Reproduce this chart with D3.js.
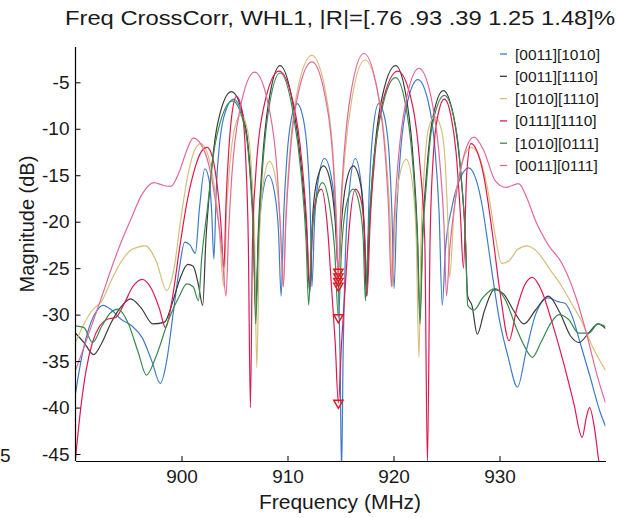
<!DOCTYPE html>
<html><head><meta charset="utf-8">
<script src="https://cdn.jsdelivr.net/npm/d3@7"></script>
<style>
body{margin:0;background:#fff;}
svg text{font-family:"Liberation Sans",Arial,sans-serif;fill:#1a1a1a;}
</style></head>
<body><svg id="c" width="621" height="518"></svg>
<script>
const titleText = "Freq CrossCorr, WHL1, |R|=[.76 .93 .39 1.25 1.48]%";
const seriesNames = ["[0011][1010]","[0011][1110]","[1010][1110]","[0111][1110]","[1010][0111]","[0011][0111]"];
const seriesColors = ["#3d7cc9","#3c3c3c","#d6bf7a","#e0184e","#3a8a4e","#e3679b"];
const xTicks = [900,910,920,930];
const yTicks = [-5,-10,-15,-20,-25,-30,-35,-40,-45];
const markerFreq = 914.8;
const markerVals = [-25.4,-25.9,-26.4,-26.9,-30.3,-39.5];

const s1 = [[890,-38.5],[890.6,-34.5],[891.4,-31],[892.0,-29.6],[892.6,-29],[893.4,-29.5],[894.3,-30.5],[895.3,-31.2],[896.3,-32.5],[897.2,-35],[898.0,-37.4],[898.6,-35],[899.2,-30],[899.8,-25],[900.3,-22.2],[900.8,-22.5],[901.3,-23.4],[901.7,-18.5],[902.2,-14.3],[902.6,-15.5],[902.85,-19],[903.05,-24],
[903.3,-16],[903.6,-11.5],[904.1,-8.3],[904.9,-6.8],[905.7,-8.3],[906.3,-12],[906.7,-18],[907.0,-29],
[907.3,-21],[907.65,-17],[908.2,-15],[908.8,-17],[909.15,-21],[909.4,-28],
[909.65,-19],[909.95,-13],[910.35,-9],[910.9,-7.3],[911.5,-9],[911.9,-13],[912.15,-19],[912.3,-27],
[912.55,-20],[912.9,-15.5],[913.5,-13.2],[914.1,-15],[914.5,-19],[914.8,-26.9],[914.95,-34],[915.1,-47],
[915.25,-34],[915.45,-24],[915.8,-17],[916.4,-13.2],[917.0,-16.5],[917.3,-22],[917.45,-27],
[917.7,-17],[918.0,-11],[918.6,-7.3],[919.2,-9],[919.6,-13],[919.85,-19],[920.05,-27.2],
[920.3,-19],[920.7,-12],[921.3,-7.2],[922.3,-4.7],[923.3,-7.2],[923.9,-12],[924.3,-19],[924.6,-29],
[924.9,-23],[925.5,-18.5],[926.3,-15.3],[927.1,-14.2],[927.8,-15.5],[928.4,-18.5],[928.8,-21.5],[929.3,-25.5],[930.0,-30.6],[930.8,-34.5],[931.7,-37.8],[932.5,-34],[933.4,-30],[934.6,-28.2],[935.5,-28.6],[936.2,-28.8],[936.8,-30],[937.6,-33],[938.5,-36.5],[939.5,-40.5],[940,-42]];

const s2 = [[890,-32],[890.8,-33],[891.7,-34.3],[892.5,-33],[893.3,-31],[894.2,-29.3],[895.2,-28.3],[896.2,-29.3],[897.3,-31],[898.4,-30.8],[899.2,-28.5],[899.9,-26],[900.6,-24.6],[901.1,-24.8],[901.6,-26.8],[902.0,-29],
[902.3,-22],[902.7,-16],[903.4,-9.5],[904.7,-6.0],[906.0,-9.5],[906.5,-15],[906.8,-21],[907.0,-30],
[907.25,-21],[907.6,-14],[908.2,-7.3],[909.3,-3.2],[910.5,-7.3],[911.3,-14],[911.8,-21],[912.1,-27.7],
[912.35,-20],[912.7,-16],[913.4,-14],[914.1,-16],[914.5,-20],[914.8,-25.4],
[915.1,-20],[915.5,-16],[916.2,-14],[916.9,-16],[917.2,-20],[917.45,-28],
[917.7,-21],[918.1,-14],[918.8,-7.3],[920.2,-3.2],[921.3,-7.3],[921.9,-14],[922.25,-21],[922.5,-30],
[922.75,-21],[923.1,-15],[923.6,-9.5],[924.7,-5.9],[925.8,-9.5],[926.4,-15.5],[926.75,-21],[927.0,-28],
[927.4,-29],[927.9,-32.1],[928.6,-29.5],[929.5,-27.3],[930.4,-27.8],[931.3,-29.5],[932.3,-31],[933.4,-29.5],[934.6,-28],[935.7,-29.8],[936.7,-32.3],[937.5,-33],[938.4,-32],[939.3,-31],[940,-31.5]];

const s3 = [[890,-33],[890.8,-31],[891.6,-29.5],[892.5,-28.5],[893.3,-26.5],[894.2,-24.5],[895.3,-23],[896.6,-22.6],[897.6,-24.2],[898.6,-27.4],[899.3,-25],[899.9,-20],[900.6,-15],[901.2,-12.4],[901.8,-11.6],[902.4,-12.5],[903.0,-15.5],[903.5,-20],[904.0,-27],
[904.25,-19],[904.55,-14],[905.0,-10],[905.6,-8.5],[906.2,-10],[906.6,-14.5],[906.9,-22],[907.1,-35.7],
[907.35,-22],[907.7,-16],[908.3,-13.5],[908.9,-15.5],[909.3,-20],[909.6,-27],
[909.85,-19],[910.2,-12.8],[910.9,-6.1],[912.3,-2.1],[913.6,-6.1],[914.3,-12.8],[914.6,-19],[914.8,-26.4],
[915.05,-19],[915.4,-13],[916.1,-6.6],[917.3,-2.6],[918.6,-6.6],[919.3,-13],[919.65,-19],[919.9,-27],
[920.15,-20],[920.5,-15.5],[921.2,-13.3],[921.8,-16],[922.15,-22],[922.4,-34.6],
[922.6,-22],[922.9,-14.5],[923.3,-10],[923.9,-8.7],[924.5,-10],[924.9,-14],[925.1,-19],[925.3,-26],
[925.7,-19],[926.3,-14.5],[927.3,-12.0],[928.0,-12.8],[928.8,-16],[929.6,-21.5],[930.2,-24.5],[930.9,-24.2],[931.7,-23],[932.6,-22.6],[933.6,-23.3],[934.8,-25.2],[935.9,-27],[936.8,-28.8],[937.7,-30.6],[938.8,-33.5],[940,-36]];

const s4 = [[890,-45.5],[890.5,-40],[891.0,-36],[891.6,-33],[892.3,-31.2],[893.0,-30.5],[893.8,-30.3],[894.6,-28.8],[895.4,-27],[896.3,-26.2],[897.2,-27.3],[897.9,-29.3],[898.5,-31.4],[899.1,-28.5],[899.8,-23],[900.5,-18],[901.2,-14.5],[901.9,-12.4],[902.4,-12.0],[902.8,-12.6],[903.3,-15.5],[903.7,-20],[904.0,-25],
[904.2,-18],[904.45,-12.5],[904.75,-8.5],[905.2,-6.5],[905.7,-8],[906.05,-13],[906.3,-22],[906.5,-40],
[906.7,-22],[907.0,-15],[907.7,-8],[909.2,-3.8],[910.6,-7.5],[911.35,-13.5],[911.8,-20],[912.1,-27],
[912.35,-21],[912.7,-17.5],[913.2,-16.5],[913.8,-21],[914.15,-27],[914.5,-33],[914.8,-39.5],[915.1,-33],[915.45,-27],[915.8,-21],[916.4,-16.5],[916.9,-17.5],[917.25,-21],[917.5,-28],
[917.8,-20],[918.2,-13.5],[918.9,-7.5],[920.4,-3.8],[921.8,-7.5],[922.5,-14],[922.95,-22],[923.2,-46],
[923.45,-22],[923.75,-13],[924.2,-8.5],[924.8,-6.8],[925.4,-8.5],[925.9,-12.5],[926.3,-19],[926.6,-25],
[926.9,-15],[927.3,-11.6],[927.8,-12.2],[928.5,-15],[929.3,-21],[930.1,-28],[930.9,-32.8],[931.6,-29.5],[932.3,-27],[933.1,-26],[934.0,-27.5],[935.0,-31],[936.0,-35],[937.0,-39.5],[937.8,-43.2],[938.2,-41],[938.5,-40],[939.0,-42.5],[939.4,-46],[940,-48]];

const s5 = [[890,-31.2],[890.8,-31.4],[891.6,-33],[892.5,-31.2],[893.3,-29.8],[894.0,-29.4],[895.0,-31],[895.9,-34],[896.7,-36.5],[897.6,-34.5],[898.8,-30.5],[899.8,-28],[900.5,-26.7],[901.1,-27],[901.6,-28.5],
[901.9,-24],[902.4,-19],[903.2,-11.5],[904.8,-7.0],[906.0,-10],[906.5,-15.5],[906.8,-22],[907.0,-31],
[907.25,-22],[907.6,-15],[908.2,-8.1],[909.3,-4.0],[910.5,-8.1],[911.3,-15],[911.75,-22],[912.0,-29],
[912.25,-22],[912.6,-18.5],[913.3,-15.8],[914.0,-18.5],[914.45,-23],[914.8,-30.3],
[915.1,-23],[915.5,-18.5],[916.2,-16.5],[916.9,-19],[917.15,-22],[917.35,-28.5],
[917.6,-22],[918.0,-15],[918.8,-8.5],[920.2,-4.5],[921.3,-8.5],[921.9,-15],[922.25,-22],[922.5,-31],
[922.75,-22],[923.1,-16],[923.6,-10],[924.8,-6.4],[925.9,-10],[926.45,-16],[926.8,-22],[927.0,-29],
[927.6,-29.5],[928.4,-28.2],[929.6,-27.2],[930.6,-28.5],[931.6,-31.5],[932.4,-33.5],[933.1,-34.6],[933.9,-33],[934.8,-31],[935.6,-30],[936.5,-30.5],[937.5,-32],[938.4,-32],[939.3,-31],[940,-31.3]];

const s6 = [[890,-36],[890.8,-33.5],[891.7,-30.6],[892.5,-28],[893.3,-25.3],[894.2,-22.5],[895.2,-19.8],[896.3,-17],[897.4,-15.8],[898.3,-16.1],[899.0,-16.2],[899.8,-14.6],[900.5,-12.3],[901.1,-11.0],[901.8,-11.6],[902.6,-14],[903.3,-18.5],[903.8,-23],[904.2,-28],
[904.45,-21],[904.75,-15],[905.5,-8],[906.9,-3.9],[908.3,-8],[909.05,-15],[909.35,-21],[909.6,-27],
[909.85,-20],[910.2,-13.5],[910.9,-6.8],[912.3,-2.8],[913.6,-6.8],[914.3,-13.5],[914.6,-20],[914.8,-25.9],
[915.0,-19],[915.35,-12.5],[916.0,-6],[917.2,-1.9],[918.5,-6],[919.2,-12.5],[919.55,-19],[919.8,-27],
[920.05,-20],[920.4,-14],[921.1,-7.5],[922.4,-3.5],[923.7,-7.5],[924.4,-14],[924.75,-20],[925.0,-28],
[925.3,-23],[925.8,-18],[926.5,-13.5],[927.6,-10.9],[928.5,-12.3],[929.6,-15.6],[930.6,-16.3],[931.8,-15.9],[932.6,-17.5],[933.4,-19.9],[934.6,-22.5],[935.9,-24.5],[937.2,-28.1],[938.2,-32],[939.2,-36.5],[940,-39.5]];

const seriesData = [s1,s2,s3,s4,s5,s6];

const svg = d3.select("#c");
const x = d3.scaleLinear().domain([890,940]).range([75.5,605.5]);
const y = d3.scaleLinear().domain([-45.75,-1.2]).range([461,47]);

svg.append("defs").append("clipPath").attr("id","clip")
  .append("rect").attr("x",x(890)).attr("y",y(-1.2)).attr("width",x(940)-x(890)).attr("height",y(-45.75)-y(-1.2));

const line = d3.line().x(d=>x(d[0])).y(d=>y(d[1])).curve(d3.curveMonotoneX);
const plot = svg.append("g").attr("clip-path","url(#clip)");
seriesData.forEach((s,i)=>{
  plot.append("path").attr("d",line(s)).attr("fill","none")
    .attr("stroke",seriesColors[i]).attr("stroke-width",1.2).attr("stroke-linejoin","round");
});

const tri = d3.symbol().type(d3.symbolTriangle).size(38);
plot.selectAll("path.mk").data(markerVals).join("path").attr("class","mk")
  .attr("d",tri).attr("transform",d=>`translate(${x(markerFreq)},${y(d)}) rotate(180)`)
  .attr("fill","none").attr("stroke","#e8141c").attr("stroke-width",1.4);

const xa = svg.append("g").attr("transform",`translate(0,${y(-45.75)})`)
  .call(d3.axisBottom(x).tickValues(xTicks).tickSizeInner(-5).tickSizeOuter(0).tickPadding(9).tickFormat(d=>String(d)));
const ya = svg.append("g").attr("transform",`translate(${x(890)},0)`)
  .call(d3.axisLeft(y).tickValues(yTicks).tickSizeInner(-5).tickSizeOuter(0).tickPadding(6).tickFormat(d=>String(d)));
[xa,ya].forEach(a=>{
  a.selectAll("text").attr("font-size",19).attr("fill","#1a1a1a").style("font-family","'Liberation Sans',Arial,sans-serif");
  a.select(".domain").attr("stroke","#000").attr("stroke-width",1.2);
  a.selectAll(".tick line").attr("stroke","#000");
});
ya.select(".domain").attr("d",`M0,${y(-45.75)}V${y(-1.2)}`);

svg.append("text").attr("x",340).attr("y",25).attr("text-anchor","middle").attr("font-size",21)
  .attr("textLength",550).attr("lengthAdjust","spacingAndGlyphs").text(titleText);
svg.append("text").attr("x",340).attr("y",509).attr("text-anchor","middle").attr("font-size",21).text("Frequency (MHz)");
svg.append("text").attr("transform","translate(34,224) rotate(-90)").attr("text-anchor","middle").attr("font-size",20).text("Magnitude (dB)");
svg.append("text").attr("x",0).attr("y",462).attr("font-size",19).text("5");

const lg = svg.append("g");
lg.append("rect").attr("x",497).attr("y",42).attr("width",112).attr("height",136).attr("fill","#fff");
seriesNames.forEach((n,i)=>{
  const yy = 54 + i*22.3;
  lg.append("line").attr("x1",500).attr("x2",507).attr("y1",yy).attr("y2",yy).attr("stroke",seriesColors[i]).attr("stroke-width",1.3);
  lg.append("text").attr("x",515).attr("y",yy+5.5).attr("font-size",15.5).text(n);
});
</script></body></html>
